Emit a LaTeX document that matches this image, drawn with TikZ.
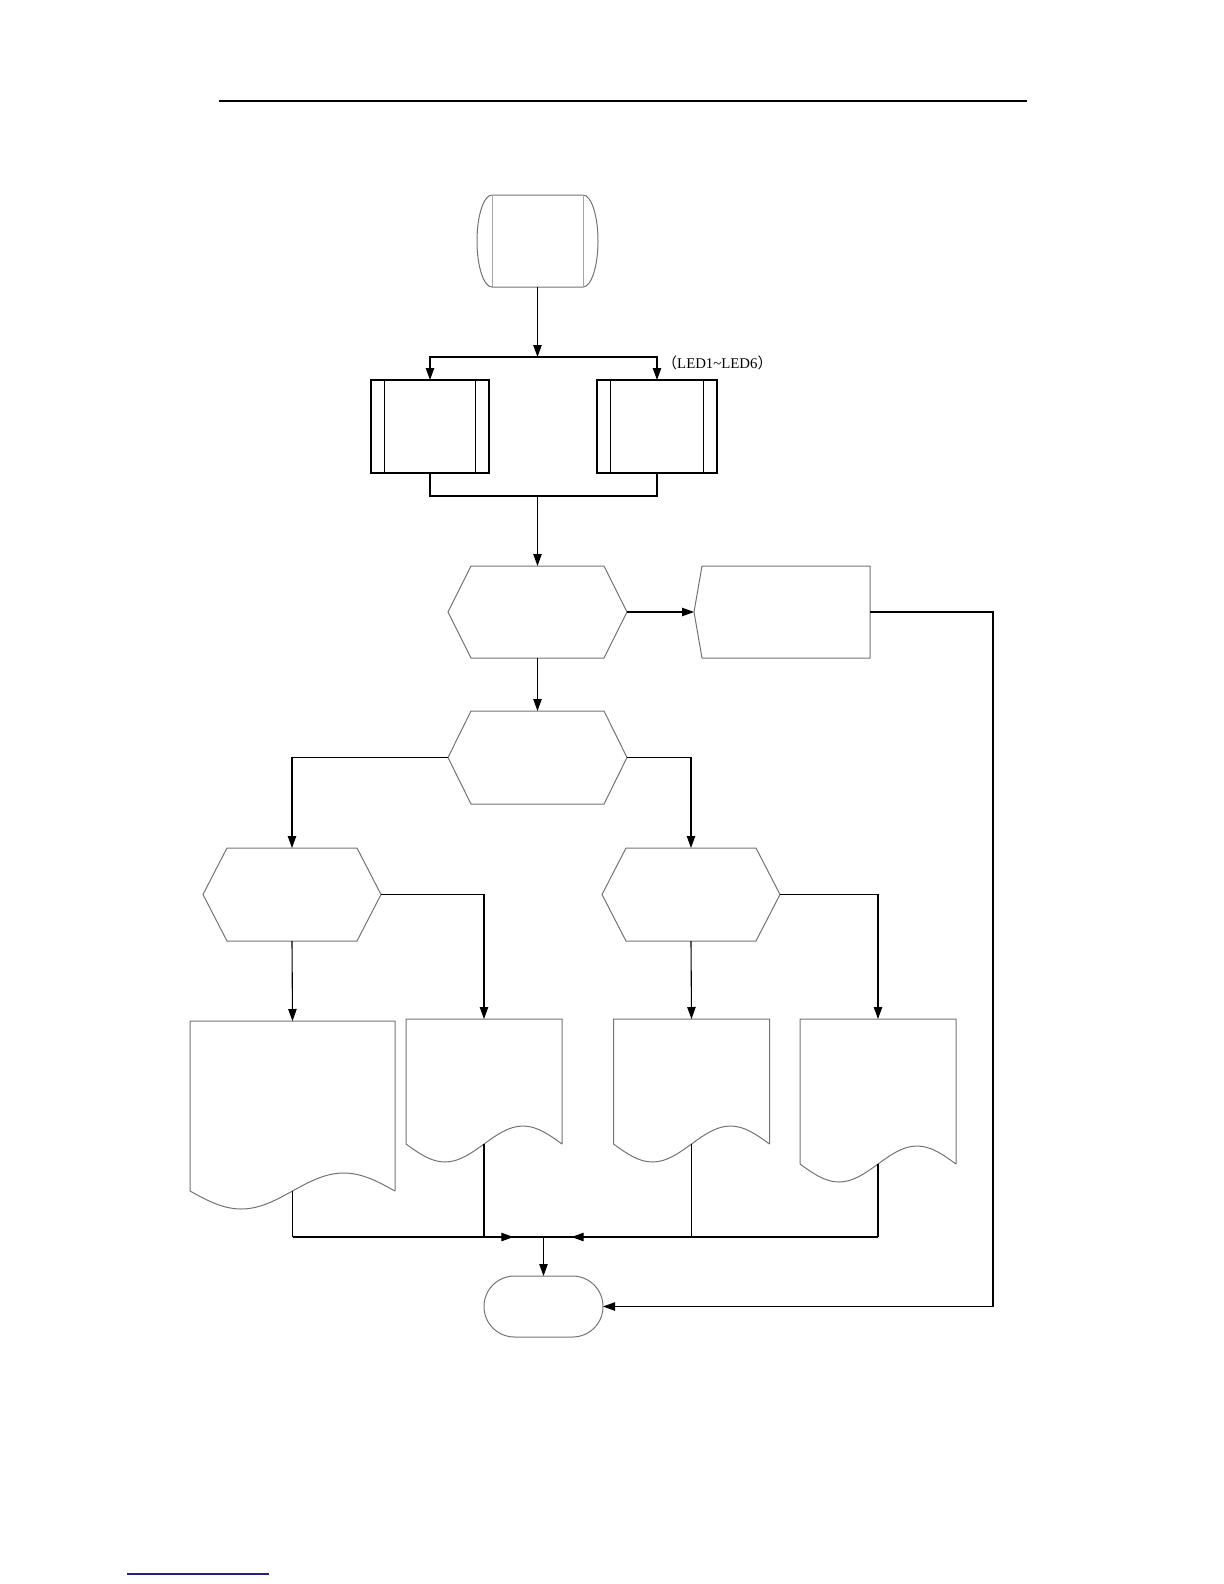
\documentclass[tikz,border=0pt]{standalone}
\usepackage{fontspec}
\setmainfont{Liberation Serif}
\newfontfamily\cjk{Noto Sans CJK SC}
\usetikzlibrary{arrows.meta, decorations.markings, shapes.misc, calc, positioning}

\definecolor{linkblue}{RGB}{30,30,140}

% outline of a hexagon round a node (name, corner inset)
\newcommand\hexoutline[2]{%
  \draw[outline] (#1.west) -- ($(#1.north west)+(#2,0)$) -- ($(#1.north east)+(-#2,0)$) -- (#1.east)
    -- ($(#1.south east)+(-#2,0)$) -- ($(#1.south west)+(#2,0)$) -- cycle;}
% outline of a document with wavy bottom (name, quarter width, wave height)
\newcommand\docoutline[3]{%
  \draw[outline] (#1.south east) -- (#1.north east) -- (#1.north west) -- (#1.south west)
    sin ++(#2,#3) cos ++(#2,-#3) sin ++(#2,-#3) cos ++(#2,#3);}

\begin{document}
\begin{tikzpicture}[
    x=0.5pt, y=-0.5pt,
    >={Triangle[length=6pt, width=4.2pt]}, % filled arrow heads
    wire/.style={draw=black, line width=0.55pt}, % connectors
    conn/.style={wire, ->},
    outline/.style={draw=black!55, line width=0.5pt}, % thin grey shape outlines
    shapebox/.style={rectangle, draw=none, inner sep=0pt, outer sep=0pt},
    procbox/.style={rectangle, draw=black, line width=0.6pt, inner sep=0pt, outer sep=0pt,
        minimum height=46.5pt,
        path picture={\draw[wire] ([xshift=6.8pt]path picture bounding box.north west) -- ([xshift=6.8pt]path picture bounding box.south west)
            ([xshift=-6.8pt]path picture bounding box.north east) -- ([xshift=-6.8pt]path picture bounding box.south east);}},
    endbox/.style={rounded rectangle, draw=black!55, line width=0.5pt, inner sep=0pt, outer sep=0pt,
        minimum width=59.5pt, minimum height=30.5pt},
    midtip/.style={decoration={markings, mark=at position #1 with {\arrow{>}}}, postaction={decorate}}
]
    \useasboundingbox (0,0) rectangle (1224,1584);

    % --- page rules ---
    \draw[line width=1.2pt] (219,101) -- (1027,101);
    \draw[linkblue, line width=0.6pt] (127,1574) -- (269,1574);

    % --- start ---
    \node[shapebox, minimum width=45.5pt, minimum height=46pt] (start) at (537.5,241) {};
    \draw[outline] (start.north west) -- (start.north east)
        arc[start angle=270, end angle=450, x radius=15, y radius=46]
        -- (start.south west) arc[start angle=90, end angle=270, x radius=15, y radius=46];
    \draw[outline, draw=black!35] (start.north west) -- (start.south west) (start.north east) -- (start.south east);

    % --- two init blocks ---
    \coordinate (fork) at (537.5,357);
    \node[procbox, minimum width=59pt] (initL) at (430,426.5) {};
    \node[procbox, minimum width=60pt] (initR) at (657,426.5) {};
    \node[anchor=west, font=\fontsize{7.4}{9}\selectfont, inner sep=0pt] (ledlbl) at (662,363)
        {{\cjk （}LED1\textasciitilde LED6{\cjk ）}};
    \coordinate (merge) at (537.5,496);

    % --- first check and its side box ---
    \node[shapebox, minimum width=89.5pt, minimum height=46pt] (hexA) at (537.5,612) {};
    \hexoutline{hexA}{23}
    \node[shapebox, minimum width=88pt, minimum height=46pt] (sideR) at (782,612) {};
    \draw[outline] (sideR.west) -- ($(sideR.north west)+(8,0)$) -- (sideR.north east)
        -- (sideR.south east) -- ($(sideR.south west)+(8,0)$) -- cycle;

    % --- second check ---
    \node[shapebox, minimum width=89.5pt, minimum height=46.5pt] (hexB) at (537.5,757.5) {};
    \hexoutline{hexB}{23}

    % --- lower checks ---
    \node[shapebox, minimum width=89pt, minimum height=46.5pt] (hexL) at (292,894.5) {};
    \hexoutline{hexL}{24}
    \node[shapebox, minimum width=89pt, minimum height=46.5pt] (hexR) at (691,894.5) {};
    \hexoutline{hexR}{24}

    % --- outputs ---
    \node[shapebox, minimum width=102.5pt, minimum height=85pt] (docA) at (292.5,1106) {};
    \docoutline{docA}{51.25}{18}
    \node[shapebox, minimum width=78pt, minimum height=62.5pt] (docB) at (484,1081.5) {};
    \docoutline{docB}{39}{18}
    \node[shapebox, minimum width=78pt, minimum height=62.5pt] (docC) at (691.5,1081.5) {};
    \docoutline{docC}{39}{18}
    \node[shapebox, minimum width=78pt, minimum height=72.5pt] (docD) at (878,1091.5) {};
    \docoutline{docD}{39}{18}

    % --- end ---
    \node[endbox] (endT) at (543.5,1306.5) {};
    \coordinate (join) at (543.5,1237);
    \coordinate (rback) at (993,1306.5);

    % --- connectors ---
    \draw[conn] (start.south) -- (fork);
    \draw[conn] (fork) -| (initL.north);
    \draw[conn] (fork) -| (initR.north);
    \draw[wire] (initL.south) |- (merge) -| (initR.south);
    \draw[conn] (merge) -- (hexA.north);
    \draw[conn] (hexA.east) -- (sideR.west);
    \draw[conn] (sideR.east) -| (rback) -- (endT.east);
    \draw[conn] (hexA.south) -- (hexB.north);
    \draw[conn] (hexB.west) -| (hexL.north);
    \draw[conn] (hexB.east) -| (hexR.north);
    \draw[conn] (hexL.south) -- (docA.north);
    \draw[conn] (hexL.east) -| (docB.north);
    \draw[conn] (hexR.south) -- (docC.north);
    \draw[conn] (hexR.east) -| (docD.north);

    \draw[wire] (docA.south) -- (docA.south |- join);
    \draw[wire] (docB.south) -- (docB.south |- join);
    \draw[wire] (docC.south) -- (docC.south |- join);
    \draw[wire] (docD.south) -- (docD.south |- join);
    \draw[wire, midtip=0.88] (docA.south |- join) -- (join);
    \draw[wire, midtip=0.916] (docD.south |- join) -- (join);
    \draw[conn] (join) -- (endT.north);

\end{tikzpicture}
\end{document}
